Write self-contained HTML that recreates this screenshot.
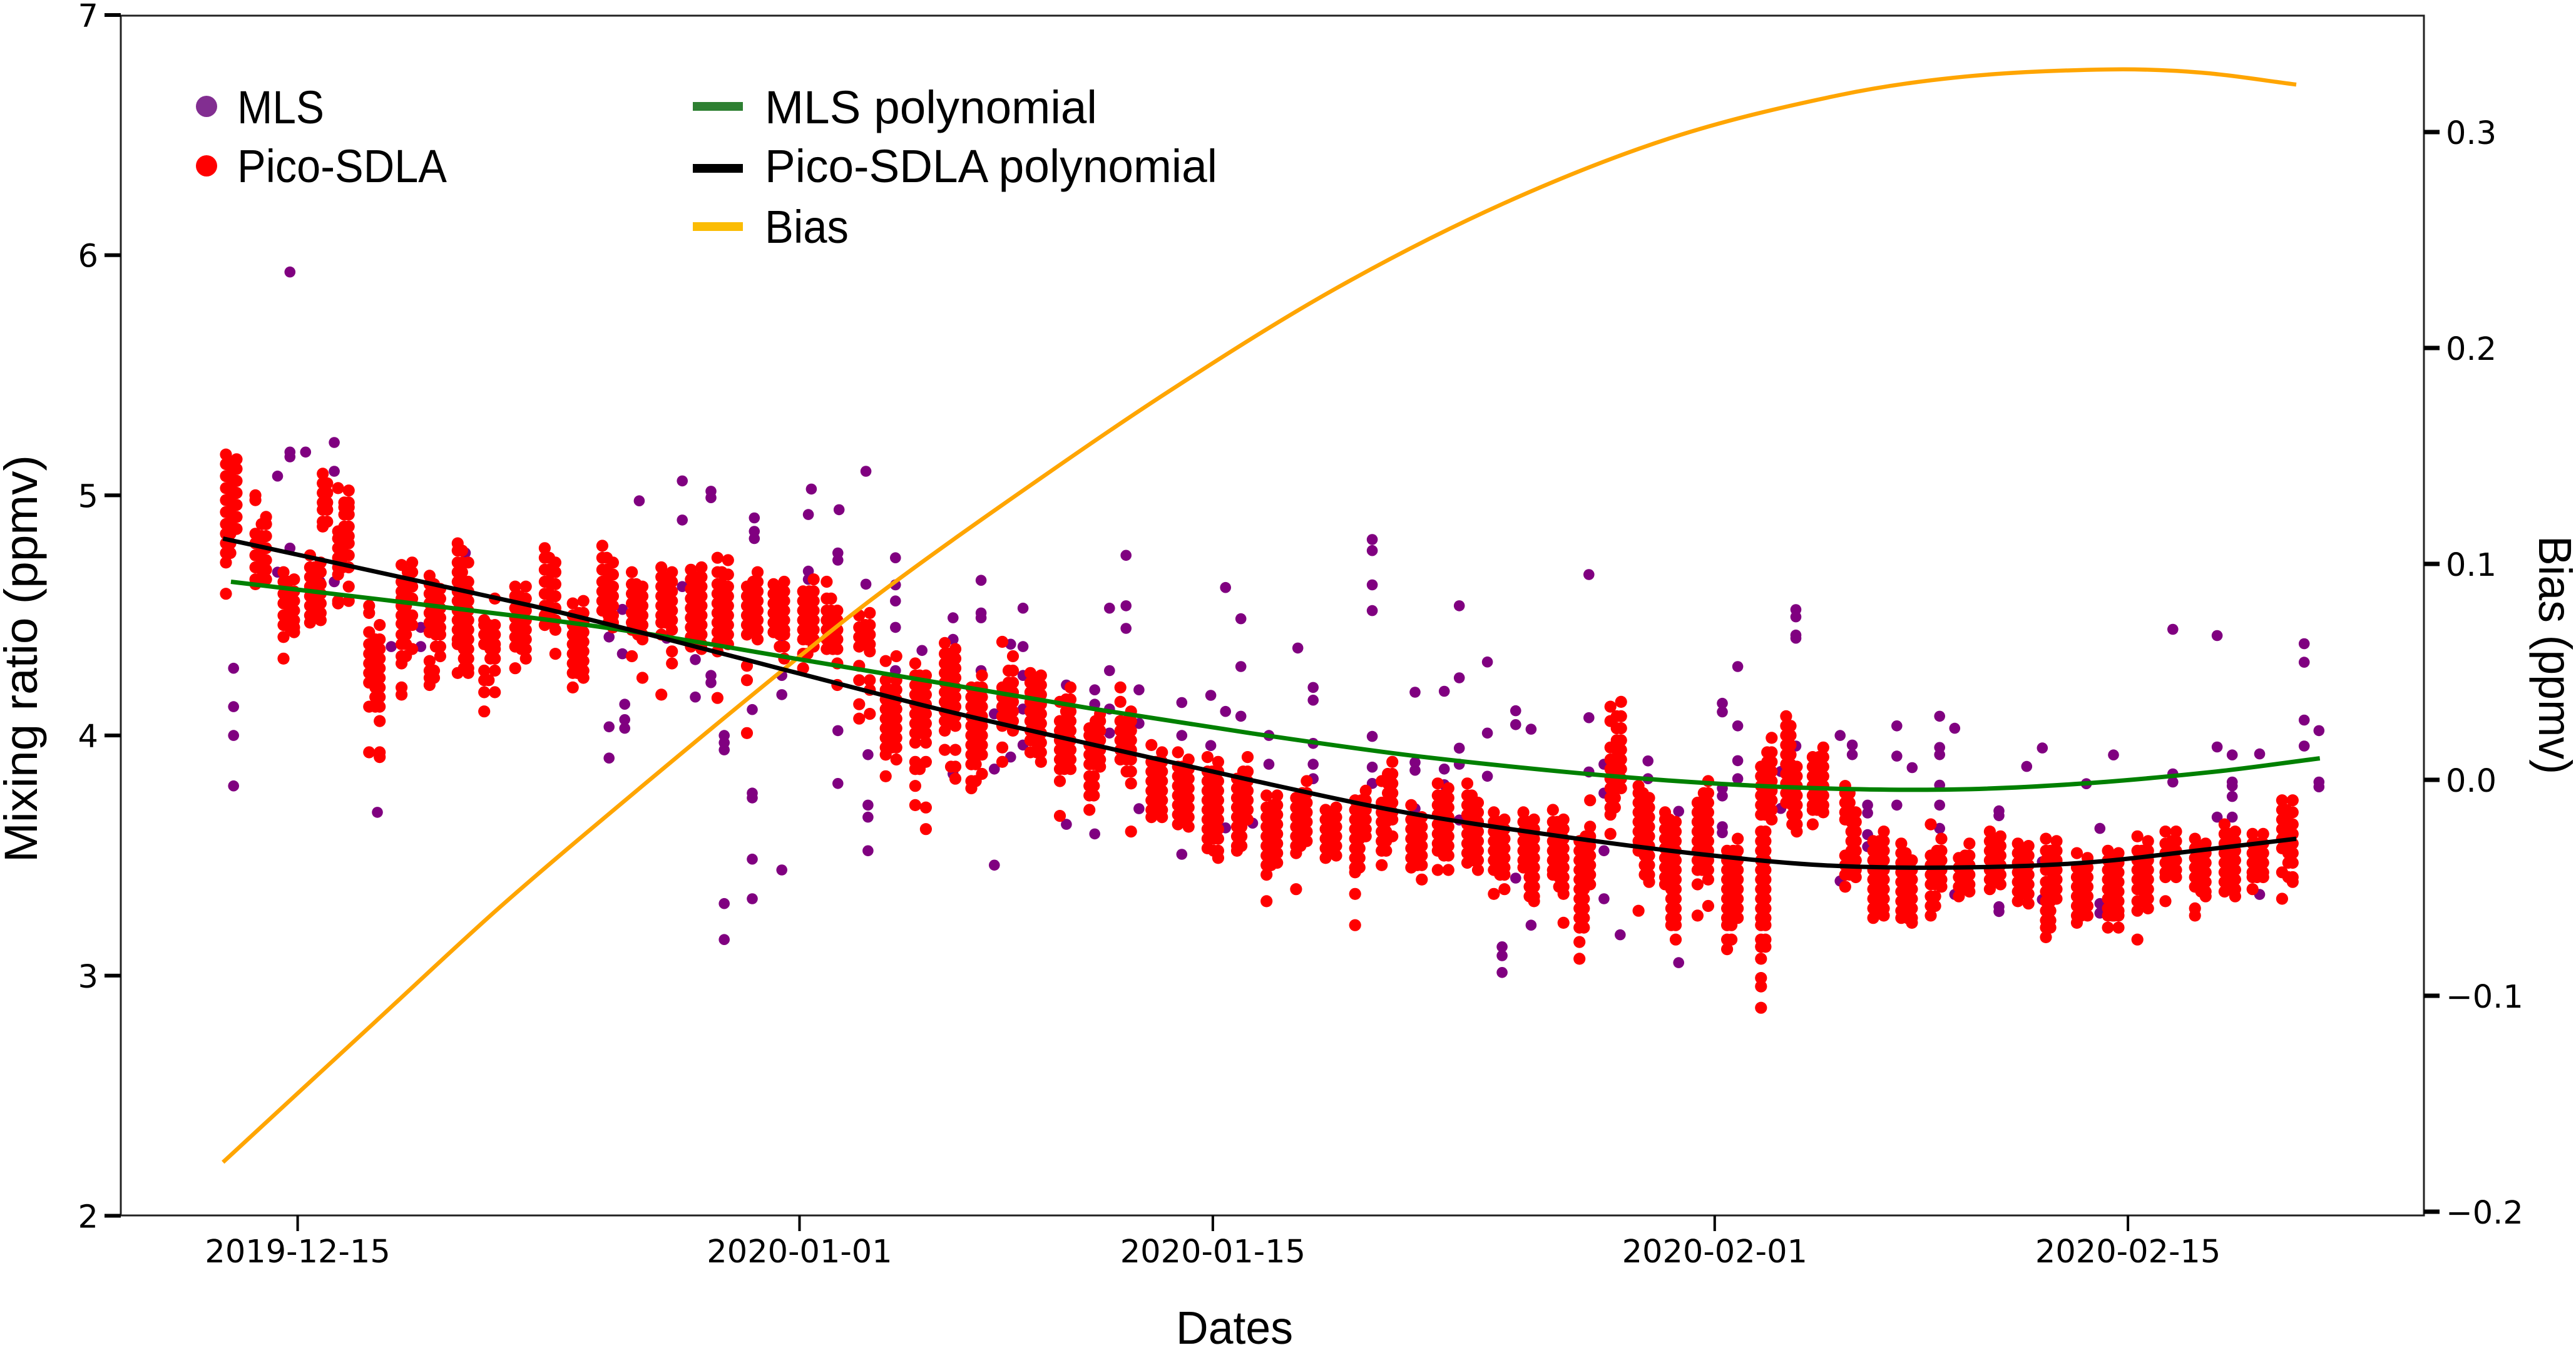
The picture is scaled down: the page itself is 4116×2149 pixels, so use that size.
<!DOCTYPE html>
<html lang="en">
<head>
<meta charset="utf-8">
<title>Mixing ratio and bias: MLS vs Pico-SDLA</title>
<style>
html,body{margin:0;padding:0;background:#fff;width:4116px;height:2149px;overflow:hidden}
svg{display:block}
text{fill:#000}
.tick{font-family:"DejaVu Sans",sans-serif;font-size:51px}
.lab{font-family:"Liberation Sans",sans-serif;font-size:74px}
</style>
</head>
<body>
<svg id="chart" xmlns="http://www.w3.org/2000/svg" width="4116" height="2149" viewBox="0 0 4116 2149">
  <g id="mls-layer"></g>
  <g id="pico-layer"></g>
  <g id="line-layer"></g>
  <g id="axis-layer"></g>
  <text class="lab" x="1879" y="2147" textLength="187" lengthAdjust="spacingAndGlyphs">Dates</text>
  <text class="lab" transform="translate(59,1378) rotate(-90)" textLength="651" lengthAdjust="spacingAndGlyphs">Mixing ratio (ppmv)</text>
  <text class="lab" transform="translate(4057,856) rotate(90)" textLength="381" lengthAdjust="spacingAndGlyphs">Bias (ppmv)</text>
  <g>
    <g>
      <circle cx="330" cy="170" r="17" fill="#822e91"></circle>
      <text class="lab" x="379" y="197" textLength="139" lengthAdjust="spacingAndGlyphs">MLS</text>
    </g>
    <g>
      <circle cx="330" cy="265" r="17" fill="#ff0000"></circle>
      <text class="lab" x="379" y="291" textLength="335" lengthAdjust="spacingAndGlyphs">Pico-SDLA</text>
    </g>
    <g>
      <rect x="1107" y="163" width="80" height="14" fill="#2e8032"></rect>
      <text class="lab" x="1222" y="197" textLength="531" lengthAdjust="spacingAndGlyphs">MLS polynomial</text>
    </g>
    <g>
      <rect x="1107" y="262" width="80" height="14" fill="#000000"></rect>
      <text class="lab" x="1222" y="291" textLength="723" lengthAdjust="spacingAndGlyphs">Pico-SDLA polynomial</text>
    </g>
    <g>
      <rect x="1107" y="355" width="80" height="14" fill="#fbbc04"></rect>
      <text class="lab" x="1222" y="388" textLength="134" lengthAdjust="spacingAndGlyphs">Bias</text>
    </g>
  </g>
</svg>
<script>
// Axis ticks (x values are days after 2019-12-15)
const xTickDays = [0, 17, 31, 48, 62];
const xTickLabels = ["2019-12-15", "2020-01-01", "2020-01-15", "2020-02-01", "2020-02-15"];
const leftTicks = [2, 3, 4, 5, 6, 7];
const rightTicks = [-0.2, -0.1, 0.0, 0.1, 0.2, 0.3];
const rightTickLabels = ["\u22120.2", "\u22120.1", "0.0", "0.1", "0.2", "0.3"];

// Bias curve
const biasDays = [-2.53, 2.64, 6.88, 11.75, 16.42, 19.6, 23.84, 29.52, 35.2, 40.86, 46.54, 52.22, 56.49, 61.32, 64.5, 67.7];
const biasValues = [-0.1771, -0.1119, -0.0586, -0.002, 0.0507, 0.0852, 0.127, 0.18, 0.2278, 0.267, 0.2974, 0.3171, 0.3257, 0.329, 0.3275, 0.322];

// Polynomial curves
const picoPolyDays = [-2.53, 7.94, 11.75, 16.3, 21.7, 27, 32.26, 37.5, 42.8, 47.2, 51.6, 56.1, 60.5, 65, 67.7];
const picoPolyValues = [4.82, 4.54, 4.425, 4.28, 4.11, 3.96, 3.815, 3.68, 3.58, 3.51, 3.46, 3.45, 3.47, 3.53, 3.57];
const mlsPolyDays = [-2.26, 7.94, 11.75, 16.85, 21.7, 27, 32.26, 37.5, 42.8, 47.2, 51.6, 56.1, 60.5, 65, 68.5];
const mlsPolyValues = [4.64, 4.49, 4.425, 4.32, 4.22, 4.11, 4.01, 3.92, 3.85, 3.806, 3.78, 3.775, 3.80, 3.85, 3.905];

// MLS samples: each day holds a list of readings
const mlsDays = [-2.17,-0.68,-0.26,0.27,0.76,1.24,2.7,3.17,4.17,5.68,10.55,11.0,11.08,11.57,12.5,13.03,13.47,14.0,14.45,15.4,15.47,16.4,17.3,17.4,18.3,18.34,19.25,19.32,20.25,21.15,22.2,23.15,23.6,24.15,24.57,26.04,27,27.5,28.06,28.5,29.95,30.93,31.43,31.95,32.35,32.9,33.88,34.4,36.4,37.85,38.84,39.35,40.3,40.8,41.26,41.78,43.74,44.25,44.8,45.74,46.78,48.26,48.78,50.24,50.75,52.25,52.66,53.18,54.17,54.69,55.62,56.13,57.63,58.57,59.1,60.59,61.05,61.51,63.52,65.02,65.53,66.46,67.97,68.47];
const mlsValues = [
[4.28,4.12,4.0,3.79],[5.08,4.68],[5.93,5.18,5.16,4.78],[5.18],[4.64],[5.22,5.10,4.64],[3.68],[4.37],[4.45,4.37],[4.76],
[4.41,4.036,3.906],[4.525,4.34],[4.13,4.066,4.03],[4.977],[4.405],[5.06,4.897,4.62],[4.316,4.16],[5.017,4.99,4.25,4.22],[4.0,3.97,3.94,3.30,3.15],[4.108,3.76,3.74,3.485,3.32],
[4.906,4.85,4.82],[4.378,4.25,4.17,3.44],[4.92,4.684,4.65],[5.026],[4.76,4.73,4.02,3.80],[4.94],[5.10,4.63],[3.92,3.71,3.66,3.52],[4.74,4.627,4.56,4.45,4.27],[4.354],
[4.49,4.40,3.84],[4.646,4.51,4.49,4.27],[4.09,3.86,3.46],[4.38,3.91],[4.53,4.37,4.25,4.11,3.96],[4.21,3.63],[4.19,4.13,3.59],[4.53,4.27,4.11,4.01],[4.75,4.54,4.446],[4.19,4.05,3.695],
[4.137,4.0,3.505],[4.167,3.958],[4.616,4.10,3.615],[4.486,4.287,4.08],[3.635],[4.0,3.88],[4.364],[4.2,4.147,3.967,3.88,3.82],[4.816,4.77,4.627,4.52,3.996,3.868,3.80],[4.18,3.888,3.855,3.695],
[4.184,3.86,3.795],[4.54,4.24,3.947,3.88,3.648],[4.306,4.01,3.83],[3.12,3.083,3.013],[4.103,4.045,3.406],[4.026,3.21],[4.67,4.074,3.848],[3.88,3.76,3.52,3.32],[3.17],[3.894,3.82],
[3.684,3.054],[4.134,4.098,3.78,3.748,3.62,3.595],[4.287,4.04,3.895,3.82],[3.85,3.696],[4.524,4.494,4.418,4.405,3.956],[4.0,3.394],[3.96,3.92],[3.71,3.677,3.587,3.537],[4.04,3.914,3.71],[3.866],
[4.08,3.95,3.92,3.793,3.71,3.613],[4.03,3.338],[3.686,3.666,3.287,3.267],[3.871],[3.948,3.474,3.317],[3.799],[3.613,3.30,3.26],[3.919],[4.442,3.84,3.806],[4.416,3.952,3.66],
[3.919,3.806,3.79,3.746,3.66],[3.923,3.338],[4.382,4.305,4.064,3.956],[4.02,3.806,3.786]
];

// Pico-SDLA samples by flight day: morning and afternoon readings
const picoDays = [-2.25,-1.25,-0.3,0.6,1.03,1.55,2.6,3.7,4.65,5.6,6.5,7.55,8.55,9.5,10.5,11.5,12.5,13.5,14.4,15.4,16.3,17.3,18.1,19.2,20.1,21.1,22.1,23.0,24.05,25,26,27,28.05,29.1,30,31,32,33,34,35,36,36.9,37.9,38.8,39.8,40.7,41.7,42.7,43.6,44.65,45.6,46.5,47.6,48.6,49.75,50.6,51.5,52.6,53.55,54.5,55.5,56.45,57.5,58.45,59.4,60.45,61.5,62.5,63.45,64.45,65.45,66.4,67.4];
const picoEarly = [
[5.17,5.13,5.08,5.03,4.98,4.93,4.88,4.84,4.80,4.76,4.72,4.59],
[5.0,4.98,4.84,4.80,4.75,4.70,4.65,4.63],
[4.68,4.64,4.59,4.55,4.50,4.46,4.41,4.32],
[4.75,4.70,4.66,4.62,4.58,4.54,4.50,4.47],
[5.09,5.05,5.01,4.97,4.94,4.89,4.87],
[5.03,4.85,4.82,4.78,4.74,4.70,4.67,4.56,4.55],
[4.54,4.51,4.43,4.38,4.34,4.30,4.26,4.22,4.12,3.93],
[4.71,4.64,4.60,4.57,4.54,4.50,4.465,4.42,4.38,4.33,4.30,4.20,4.17],
[4.665,4.63,4.59,4.55,4.51,4.47,4.43,4.31,4.27,4.24,4.21],
[4.80,4.77,4.72,4.68,4.64,4.60,4.56,4.52,4.48,4.44,4.40,4.38,4.26],
[4.48,4.46,4.42,4.38,4.27,4.23,4.18,4.10],
[4.62,4.58,4.53,4.49,4.45,4.41,4.37,4.28],
[4.78,4.74,4.69,4.64,4.59,4.54,4.50,4.46],
[4.55,4.50,4.46,4.42,4.38,4.34,4.30,4.26,4.20],
[4.79,4.74,4.69,4.64,4.60,4.56,4.52],
[4.68,4.63,4.59,4.55,4.51,4.47,4.44,4.33],
[4.70,4.66,4.62,4.58,4.54,4.50,4.47,4.42,4.17],
[4.69,4.65,4.61,4.57,4.53,4.49,4.45,4.41,4.37],
[4.74,4.68,4.63,4.59,4.55,4.51,4.47,4.43,4.39,4.35,4.156],
[4.62,4.58,4.54,4.50,4.46,4.42,4.29,4.23,4.01],
[4.63,4.59,4.55,4.51,4.47,4.43],
[4.60,4.56,4.52,4.48,4.44,4.40,4.34,4.28],
[4.64,4.57,4.52,4.48,4.44,4.40,4.36],
[4.50,4.45,4.41,4.37,4.29,4.23,4.13,4.07],
[4.31,4.23,4.19,4.15,4.11,4.07,4.03,3.99,3.95,3.92,3.83],
[4.30,4.25,4.21,4.17,4.13,4.09,4.05,4.01,3.97,3.89,3.86,3.79,3.71],
[4.385,4.34,4.30,4.26,4.22,4.18,4.14,4.10,4.06,4.02,3.94],
[4.20,4.16,4.12,4.08,4.04,4.0,3.96,3.92,3.88,3.81,3.78],
[4.39,4.20,4.16,4.12,4.08,4.04,3.95,3.89],
[4.26,4.22,4.18,4.14,4.10,4.06,4.02,3.98,3.93],
[4.14,4.06,4.02,3.98,3.94,3.90,3.86,3.81,3.665],
[4.03,4.0,3.96,3.92,3.88,3.83,3.79,3.75,3.69],
[4.20,4.14,4.06,4.02,3.98,3.94,3.90],
[3.96,3.89,3.85,3.81,3.77,3.73,3.69,3.66],
[3.93,3.87,3.83,3.79,3.75,3.71,3.67,3.63],
[3.91,3.85,3.81,3.77,3.73,3.69,3.65,3.61,3.57,3.53],
[3.82,3.78,3.74,3.70,3.66,3.62,3.58,3.54,3.52],
[3.75,3.70,3.66,3.62,3.58,3.54,3.50,3.46,3.42,3.31],
[3.74,3.70,3.66,3.62,3.58,3.54,3.51,3.36],
[3.69,3.65,3.61,3.57,3.53,3.49],
[3.73,3.69,3.65,3.61,3.57,3.53,3.49,3.45,3.43,3.34,3.21],
[3.81,3.72,3.68,3.64,3.60,3.56,3.52,3.46],
[3.71,3.65,3.61,3.57,3.53,3.49,3.45],
[3.80,3.75,3.71,3.67,3.63,3.59,3.55,3.52,3.44],
[3.80,3.75,3.71,3.67,3.63,3.59,3.55,3.51,3.47],
[3.68,3.64,3.60,3.56,3.52,3.48,3.44,3.34],
[3.68,3.64,3.60,3.56,3.52,3.48,3.45],
[3.69,3.64,3.60,3.56,3.52,3.48,3.44,3.42],
[3.56,3.52,3.48,3.44,3.40,3.36,3.32,3.28,3.24,3.20,3.14,3.07],
[4.12,4.06,3.95,3.90,3.86,3.82,3.78,3.74,3.70,3.67,3.59],
[3.79,3.76,3.72,3.68,3.64,3.60,3.56,3.52,3.27],
[3.68,3.65,3.61,3.57,3.53,3.49,3.45,3.41,3.38],
[3.72,3.68,3.64,3.60,3.56,3.52,3.48,3.44,3.38,3.25],
[3.52,3.48,3.44,3.40,3.36,3.32,3.28,3.24,3.21,3.15,3.11],
[3.87,3.83,3.79,3.75,3.71,3.67,3.6,3.56,3.52,3.48,3.44,3.40,3.36,3.32,3.28,3.24,3.21,3.15,3.12,3.07,2.99,2.955,2.866],
[4.08,4.04,4.0,3.96,3.92,3.88,3.84,3.80,3.76,3.72],
[3.91,3.87,3.83,3.79,3.75,3.71,3.69,3.63],
[3.79,3.76,3.72,3.68,3.65,3.50,3.46,3.42,3.37],
[3.56,3.52,3.48,3.44,3.40,3.36,3.32,3.28,3.24],
[3.55,3.51,3.47,3.43,3.39,3.35,3.31,3.27,3.24],
[3.63,3.50,3.46,3.42,3.38,3.33,3.29,3.25],
[3.49,3.45,3.41,3.37,3.33],
[3.60,3.56,3.52,3.48,3.44,3.40,3.36],
[3.55,3.51,3.47,3.43,3.39,3.35,3.31],
[3.57,3.52,3.48,3.44,3.39,3.35,3.31,3.27,3.23,3.20,3.16],
[3.51,3.45,3.41,3.37,3.33,3.29,3.25,3.22],
[3.52,3.48,3.44,3.40,3.36,3.32,3.28,3.25,3.20],
[3.58,3.52,3.48,3.44,3.40,3.36,3.31,3.27,3.15],
[3.60,3.55,3.51,3.47,3.43,3.41,3.31],
[3.57,3.53,3.49,3.45,3.41,3.37,3.28,3.25],
[3.63,3.59,3.55,3.51,3.47,3.43,3.39,3.35],
[3.59,3.55,3.51,3.47,3.43,3.41,3.36],
[3.73,3.69,3.65,3.61,3.57,3.53,3.43,3.32]
];
const picoLate = [
[5.15,5.11,5.06,5.01,4.96,4.91,4.86],
[4.91,4.88,4.83,4.78,4.73,4.69,4.65],
[4.65,4.60,4.56,4.52,4.48,4.45,4.43],
[4.72,4.68,4.63,4.59,4.55,4.51,4.48],
[],
[5.02,4.97,4.95,4.92,4.87,4.83,4.80,4.75,4.70,4.62,4.56],
[4.46,4.40,4.36,4.32,4.28,4.24,4.20,4.16,4.12,4.06,3.93,3.91],
[4.72,4.68,4.62,4.57,4.50,4.46,4.36],
[4.61,4.57,4.53,4.49,4.45,4.42,4.37,4.33],
[4.72,4.64,4.60,4.56,4.52,4.48,4.44,4.40,4.36,4.32,4.28,4.26],
[4.57,4.46,4.42,4.38,4.36,4.32,4.27,4.18],
[4.62,4.57,4.52,4.48,4.44,4.40,4.36,4.32],
[4.72,4.68,4.63,4.58,4.53,4.48,4.44,4.34],
[4.56,4.51,4.47,4.43,4.39,4.35,4.31,4.27,4.24],
[4.72,4.67,4.62,4.58,4.54,4.50,4.47,4.45],
[4.62,4.58,4.54,4.50,4.46,4.42,4.40,4.24],
[4.68,4.64,4.60,4.56,4.52,4.48,4.44,4.35,4.30],
[4.70,4.66,4.62,4.58,4.54,4.50,4.46,4.42,4.38,4.36],
[4.73,4.67,4.62,4.58,4.54,4.50,4.46,4.42,4.38],
[4.68,4.64,4.60,4.56,4.52,4.48,4.44,4.40],
[4.64,4.60,4.56,4.52,4.48,4.44,4.42,4.37,4.32],
[4.65,4.60,4.56,4.52,4.48,4.44,4.40,4.37],
[4.52,4.48,4.44,4.40,4.36,4.30,4.21],
[4.51,4.46,4.42,4.38,4.35,4.23,4.19,4.09],
[4.33,4.23,4.19,4.15,4.11,4.07,4.03,3.99,3.95,3.90],
[4.25,4.21,4.17,4.13,4.09,4.05,4.01,3.97,3.89,3.70,3.61],
[4.36,4.32,4.28,4.24,4.20,4.16,4.12,4.08,4.04,3.94,3.87,3.82],
[4.25,4.20,4.16,4.12,4.08,4.04,4.0,3.96,3.92,3.84],
[4.33,4.27,4.22,4.18,4.14,4.10,4.06,4.02],
[4.25,4.21,4.17,4.13,4.09,4.05,4.01,3.97,3.93,3.89],
[4.20,4.15,4.10,4.06,4.02,3.98,3.94,3.90,3.86],
[4.09,4.06,4.02,3.98,3.94,3.90,3.87],
[4.10,4.06,4.02,3.98,3.94,3.90,3.85,3.80,3.60],
[3.93,3.89,3.85,3.81,3.77,3.73,3.69,3.66],
[3.90,3.86,3.82,3.78,3.74,3.70,3.66,3.62],
[3.89,3.85,3.81,3.77,3.73,3.69,3.65,3.61,3.57,3.52,3.49],
[3.91,3.85,3.81,3.77,3.73,3.69,3.65],
[3.75,3.71,3.67,3.63,3.59,3.55,3.51,3.47],
[3.81,3.76,3.72,3.68,3.64,3.60,3.56],
[3.70,3.66,3.62,3.58,3.54,3.50],
[3.77,3.73,3.69,3.65,3.61,3.58],
[3.89,3.84,3.80,3.76,3.72,3.68,3.65,3.58],
[3.66,3.62,3.58,3.54,3.50,3.46,3.40],
[3.78,3.74,3.70,3.66,3.62,3.58,3.54,3.50,3.44],
[3.72,3.68,3.64,3.60,3.56,3.52,3.48,3.44],
[3.65,3.61,3.57,3.53,3.49,3.45,3.42,3.36],
[3.65,3.61,3.57,3.53,3.49,3.45,3.41,3.37,3.33,3.31],
[3.65,3.61,3.57,3.53,3.49,3.45,3.41,3.37,3.34,3.22],
[3.73,3.62,3.58,3.54,3.50,3.46,3.42,3.38],
[4.14,4.08,4.03,3.98,3.94,3.90,3.86,3.82,3.78],
[3.74,3.70,3.66,3.62,3.58,3.54,3.50,3.46,3.42,3.39],
[3.64,3.60,3.56,3.52,3.48,3.44,3.40,3.36,3.32,3.28,3.24,3.21,3.15],
[3.81,3.76,3.72,3.68,3.64,3.60,3.56,3.52,3.48,3.44,3.40,3.29],
[3.57,3.52,3.48,3.44,3.40,3.36,3.32,3.28,3.24],
[3.99,3.93,3.89,3.85,3.81,3.77,3.73,3.69,3.65],
[3.87,3.83,3.79,3.75,3.71,3.67,3.63,3.60],
[3.95,3.91,3.87,3.83,3.79,3.75,3.71,3.68],
[3.68,3.64,3.60,3.56,3.52,3.48,3.44,3.41],
[3.6,3.56,3.52,3.48,3.44,3.40,3.36,3.32,3.28,3.25],
[3.48,3.44,3.40,3.36,3.32,3.28,3.24,3.22],
[3.57,3.52,3.48,3.44,3.40,3.37],
[3.55,3.50,3.46,3.42,3.38,3.35],
[3.58,3.54,3.50,3.46,3.42,3.38],
[3.54,3.50,3.46,3.42,3.38,3.34,3.30],
[3.56,3.52,3.48,3.44,3.40,3.36,3.32],
[3.49,3.45,3.41,3.37,3.33,3.29,3.25],
[3.51,3.47,3.43,3.39,3.35,3.31,3.27,3.25,3.20],
[3.56,3.52,3.48,3.44,3.40,3.36,3.32,3.28],
[3.60,3.56,3.52,3.48,3.44,3.41],
[3.55,3.51,3.47,3.43,3.39,3.35,3.33],
[3.60,3.56,3.52,3.48,3.44,3.40,3.36,3.33],
[3.59,3.55,3.51,3.47,3.43,3.41],
[3.73,3.68,3.63,3.59,3.55,3.51,3.47,3.41,3.39]
];

const SVGNS = "http://www.w3.org/2000/svg";
function xScale(day) { return 475.6 + 47.17 * day; }
function yLeft(v) { return 24 + (7 - v) * 383.7; }
function yRight(b) { return 1246 - 3450 * b; }

function make(tag, attrs, parent) {
  const el = document.createElementNS(SVGNS, tag);
  for (const key in attrs) el.setAttribute(key, attrs[key]);
  parent.appendChild(el);
  return el;
}

function smoothPath(days, values, yFn) {
  const pts = days.map((d, i) => [xScale(d), yFn(values[i])]);
  let path = "M" + pts[0][0].toFixed(1) + " " + pts[0][1].toFixed(1);
  for (let i = 0; i < pts.length - 1; i++) {
    const p0 = pts[Math.max(i - 1, 0)], p1 = pts[i], p2 = pts[i + 1], p3 = pts[Math.min(i + 2, pts.length - 1)];
    const span = p2[0] - p1[0];
    const m1 = (p2[1] - p0[1]) / (p2[0] - p0[0]);
    const m2 = (p3[1] - p1[1]) / (p3[0] - p1[0]);
    path += " C" + (p1[0] + span / 3).toFixed(1) + " " + (p1[1] + m1 * span / 3).toFixed(1) + " " +
      (p2[0] - span / 3).toFixed(1) + " " + (p2[1] - m2 * span / 3).toFixed(1) + " " +
      p2[0].toFixed(1) + " " + p2[1].toFixed(1);
  }
  return path;
}

const mlsLayer = document.getElementById("mls-layer");
mlsDays.forEach((day, i) => {
  mlsValues[i].forEach((value) => {
    const dot = make("circle", { cx: xScale(day).toFixed(1), cy: yLeft(value).toFixed(1), r: 8.8, fill: "#800080" }, mlsLayer);
    
    
  });
});

const picoLayer = document.getElementById("pico-layer");
function drawPicoColumn(day, values, side) {
  values.forEach((value, j) => {
    const dot = make("circle", { cx: xScale(day + side * 0.18).toFixed(1), cy: yLeft(value).toFixed(1), r: 9.6, fill: "#ff0000" }, picoLayer);
    
    
    const hasUpper = j > 0 && values[j - 1] - value < 0.07;
    const hasLower = j < values.length - 1 && value - values[j + 1] < 0.07;
    if (hasUpper && hasLower) {
      const core = make("circle", { cx: xScale(day + side * 0.03).toFixed(1), cy: yLeft(value).toFixed(1), r: 9.6, fill: "#ff0000" }, picoLayer);
      
      
    }
  });
}
picoDays.forEach((day, i) => {
  drawPicoColumn(day, picoEarly[i], -1);
  drawPicoColumn(day, picoLate[i], 1);
});

const lineLayer = document.getElementById("line-layer");
const biasLine = make("path", { d: smoothPath(biasDays, biasValues, yRight), fill: "none", stroke: "#ffa500", "stroke-width": 6.5 }, lineLayer);


const mlsLine = make("path", { d: smoothPath(mlsPolyDays, mlsPolyValues, yLeft), fill: "none", stroke: "#008000", "stroke-width": 7 }, lineLayer);


const picoLine = make("path", { d: smoothPath(picoPolyDays, picoPolyValues, yLeft), fill: "none", stroke: "#000000", "stroke-width": 7 }, lineLayer);



const axisLayer = document.getElementById("axis-layer");
const frame = make("rect", { x: 193, y: 25, width: 3680, height: 1917, fill: "none", stroke: "#222", "stroke-width": 3 }, axisLayer);



xTickDays.forEach((day, i) => {
  const px = xScale(day);
  const tick = make("rect", { x: (px - 2).toFixed(1), y: 1942, width: 4, height: 25, fill: "#000" }, axisLayer);
  
  
  const label = make("text", { x: px.toFixed(1), y: 2017, "text-anchor": "middle", class: "tick" }, axisLayer);
  label.textContent = xTickLabels[i];
  
  
});

leftTicks.forEach((value) => {
  const py = yLeft(value);
  const tick = make("rect", { x: 167, y: (py - 3).toFixed(1), width: 26, height: 6, fill: "#000" }, axisLayer);
  
  
  const label = make("text", { x: 157, y: (py + 19).toFixed(1), "text-anchor": "end", class: "tick" }, axisLayer);
  label.textContent = String(value);
  
  
});

rightTicks.forEach((value, i) => {
  const py = yRight(value);
  const tick = make("rect", { x: 3873, y: (py - 3.5).toFixed(1), width: 25, height: 7, fill: "#000" }, axisLayer);
  
  
  const label = make("text", { x: 3908, y: (py + 19).toFixed(1), class: "tick" }, axisLayer);
  label.textContent = rightTickLabels[i];
  
  
});
</script>
</body>
</html>
